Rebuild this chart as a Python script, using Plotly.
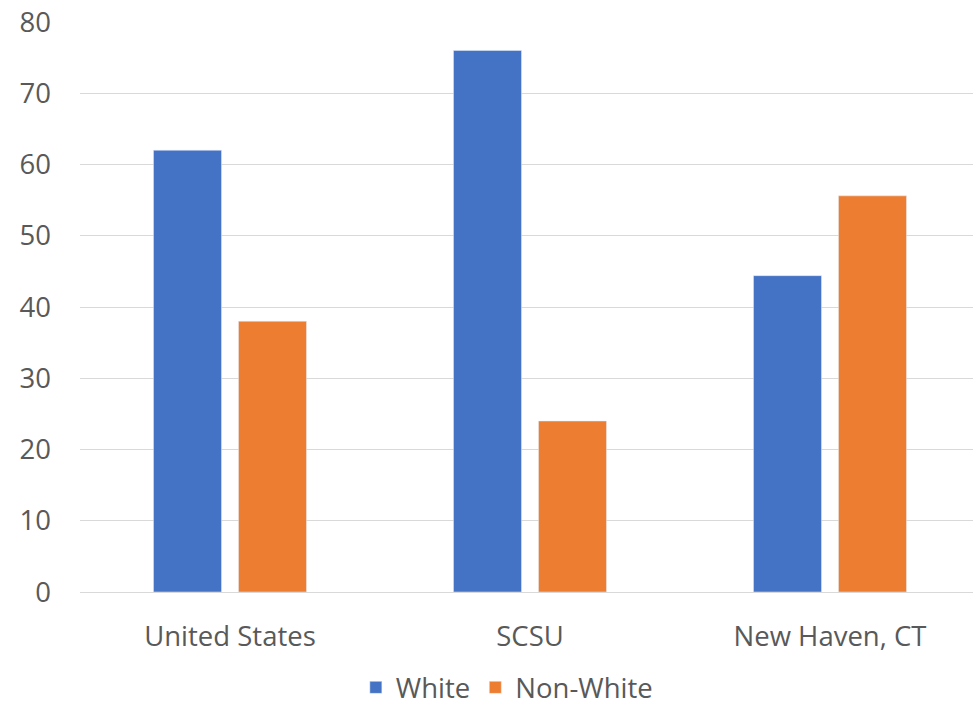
import plotly.graph_objects as go

categories = ["United States", "SCSU", "New Haven, CT"]
white = [62, 76, 44.4]
non_white = [38, 24, 55.6]
y_ticks = [0, 10, 20, 30, 40, 50, 60, 70, 80]

text_color = "#595959"
font_family = "Open Sans, Noto Sans, sans-serif"
fs = 27.5

fig = go.Figure()
fig.add_trace(go.Bar(name="White", x=categories, y=white, marker_color="#4472C4"))
fig.add_trace(go.Bar(name="Non-White", x=categories, y=non_white, marker_color="#ED7D31"))

fig.update_layout(
    width=973, height=707,
    margin=dict(l=80, r=0, t=22, b=115, autoexpand=False),
    paper_bgcolor="white", plot_bgcolor="white",
    barmode="group", bargap=0.4333, bargroupgap=0.2,
    font=dict(family=font_family, size=fs, color=text_color),
    showlegend=True,
    legend=dict(orientation="h", x=0.478, xanchor="center", y=-0.2105, yanchor="bottom",
                font=dict(size=fs, color=text_color), itemwidth=30, traceorder="normal",
                borderwidth=0),
)
fig.update_xaxes(range=[-0.5, 2.4767], showgrid=False, showline=True, linecolor="#D9D9D9",
                 linewidth=1, ticks="", ticklabelstandoff=20, automargin=False,
                 tickfont=dict(size=fs, color=text_color))
fig.update_yaxes(range=[0, 80], tickvals=y_ticks, showgrid=True, gridcolor="#D9D9D9", gridwidth=1,
                 zeroline=False, showline=False, ticks="", ticklabelstandoff=28, automargin=False,
                 tickfont=dict(size=fs, color=text_color))

fig.write_html("out.html")
